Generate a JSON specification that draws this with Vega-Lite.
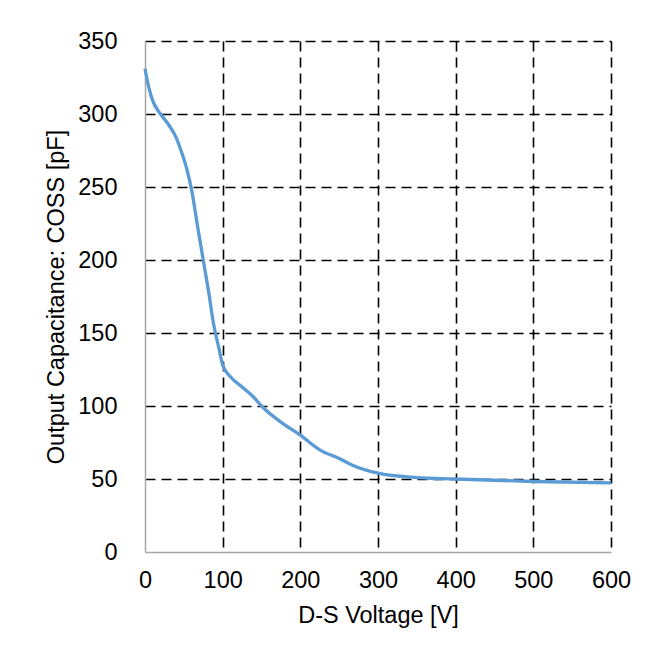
{
  "$schema": "https://vega.github.io/schema/vega-lite/v6.json",
  "width": 466,
  "height": 511,
  "autosize": {"type": "none"},
  "padding": {"left": 145, "top": 41, "right": 56, "bottom": 102},
  "background": "white",
  "config": {
    "view": {"stroke": null},
    "font": "Liberation Sans",
    "axis": {
      "labelFont": "Liberation Sans",
      "titleFont": "Liberation Sans",
      "labelFontSize": 23.5,
      "titleFontSize": 23.5,
      "labelColor": "#000000",
      "titleColor": "#000000",
      "titleFontWeight": "normal",
      "ticks": false,
      "labelFlush": false,
      "labelOverlap": false,
      "domainColor": "#A6A6A6",
      "domainWidth": 1.5,
      "gridColor": "#000000",
      "gridWidth": 1.6,
      "gridDash": [10, 6],
      "gridOpacity": {"condition": {"test": "datum.value === 0", "value": 0}, "value": 1}
    }
  },
  "data": {
    "values": [
      {"V": 0, "C": 331},
      {"V": 5, "C": 318},
      {"V": 10, "C": 309},
      {"V": 20, "C": 300},
      {"V": 30, "C": 293},
      {"V": 40, "C": 284},
      {"V": 47, "C": 274},
      {"V": 54, "C": 262},
      {"V": 60, "C": 248},
      {"V": 68, "C": 222},
      {"V": 75, "C": 200},
      {"V": 82, "C": 178},
      {"V": 88, "C": 157},
      {"V": 95, "C": 140},
      {"V": 100, "C": 128},
      {"V": 110, "C": 120},
      {"V": 125, "C": 113},
      {"V": 140, "C": 106},
      {"V": 150, "C": 100},
      {"V": 175, "C": 89},
      {"V": 200, "C": 80},
      {"V": 225, "C": 70},
      {"V": 250, "C": 64},
      {"V": 265, "C": 60},
      {"V": 300, "C": 54},
      {"V": 350, "C": 51},
      {"V": 400, "C": 50},
      {"V": 500, "C": 48.3},
      {"V": 600, "C": 47.3}
    ]
  },
  "mark": {"type": "line", "color": "#5B9BD5", "strokeWidth": 3.3, "interpolate": "monotone"},
  "encoding": {
    "x": {
      "field": "V",
      "type": "quantitative",
      "scale": {"domain": [0, 600], "nice": false},
      "axis": {"values": [0, 100, 200, 300, 400, 500, 600], "title": "D-S Voltage [V]", "labelPadding": 16, "titlePadding": 12}
    },
    "y": {
      "field": "C",
      "type": "quantitative",
      "scale": {"domain": [0, 350], "nice": false},
      "axis": {"values": [0, 50, 100, 150, 200, 250, 300, 350], "title": "Output Capacitance: COSS [pF]", "labelPadding": 28, "titlePadding": 9}
    }
  }
}
